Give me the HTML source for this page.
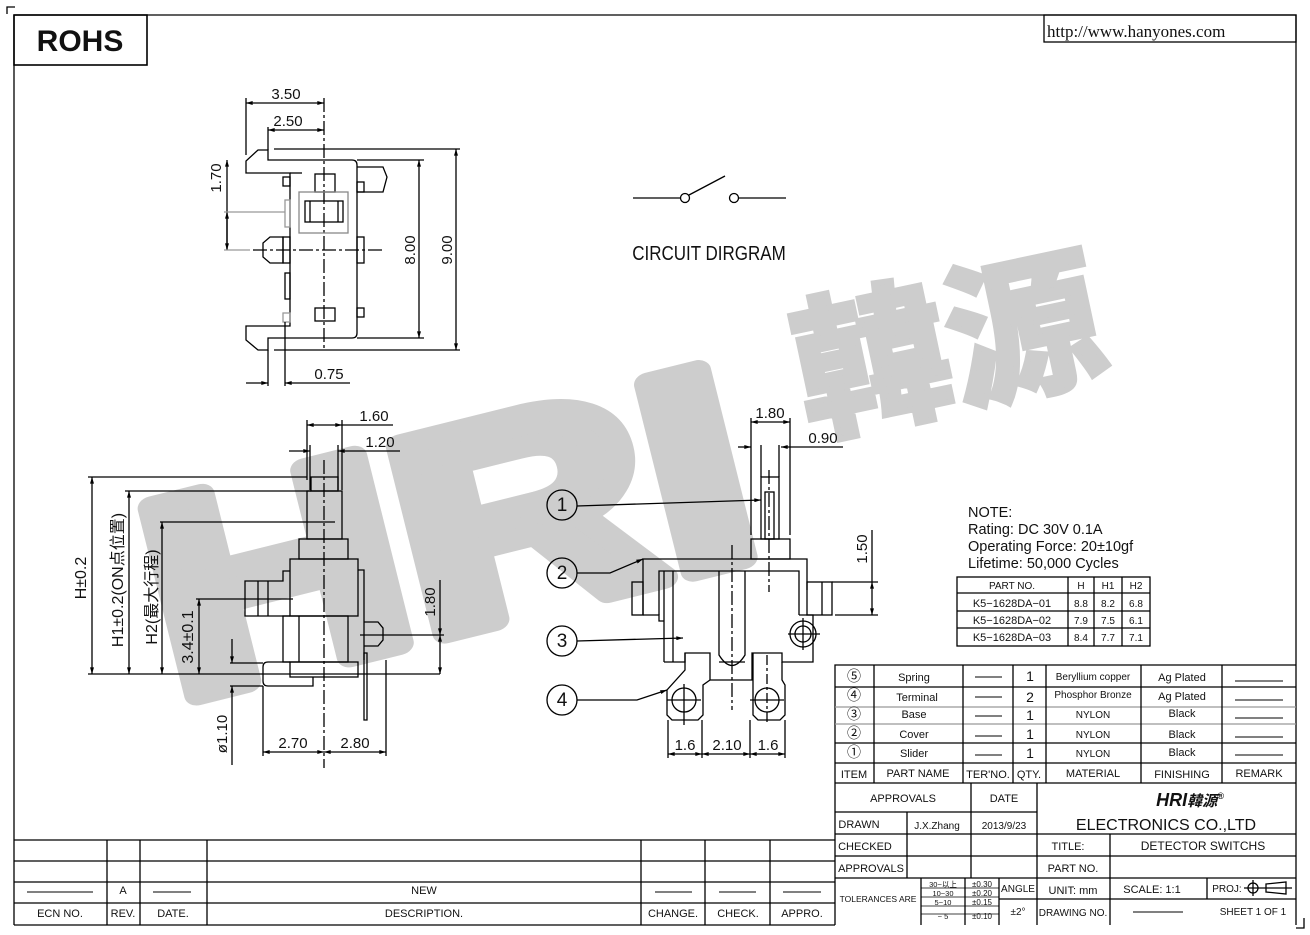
<!DOCTYPE html>
<html><head><meta charset="utf-8"><style>
html,body{margin:0;padding:0;background:#fff;}
svg{display:block;}
text{font-family:"Liberation Sans","Noto Sans CJK SC",sans-serif;fill:#111;}
</style></head><body>
<svg width="1310" height="935" viewBox="0 0 1310 935" xmlns="http://www.w3.org/2000/svg">
<defs>
<marker id="a" viewBox="0 0 10 6" refX="10" refY="3" markerWidth="8" markerHeight="4" orient="auto-start-reverse" markerUnits="userSpaceOnUse"><path d="M0,0 L10,3 L0,6 z" fill="#000"/></marker>
</defs>

<!-- watermark -->
<text x="175" y="700" transform="rotate(-14 175 700)" font-size="280" font-weight="bold" style="fill:#cdcdcd;stroke:#cdcdcd;stroke-width:22;stroke-linejoin:round" textLength="610" lengthAdjust="spacingAndGlyphs">HRI</text>
<text x="808" y="432" transform="rotate(-12 808 432)" font-size="155" font-weight="bold" style="fill:#cdcdcd;stroke:#cdcdcd;stroke-width:6;font-family:'Noto Sans CJK SC',sans-serif">韓源</text>

<g stroke="#000" stroke-width="1.3" fill="none">
<path d="M7,14 V7 H15"/>
<path d="M14,15 H1296 V925"/>
<path d="M14,15 V925"/>
<path d="M1296,928 H1304 V918"/>
<rect x="14" y="15" width="133" height="50" stroke-width="1.6"/>
<rect x="1044" y="15" width="252" height="27"/>

<line x1="633" y1="198" x2="680" y2="198"/>
<circle cx="685" cy="198" r="4.5"/>
<line x1="689" y1="195" x2="725" y2="176"/>
<circle cx="734" cy="198" r="4.5"/>
<line x1="739" y1="198" x2="786" y2="198"/>

<line x1="246" y1="103" x2="324" y2="103" marker-start="url(#a)" marker-end="url(#a)"/>
<line x1="268" y1="130" x2="324" y2="130" marker-start="url(#a)" marker-end="url(#a)"/>
<line x1="246" y1="98" x2="246" y2="155"/>
<line x1="268" y1="127" x2="268" y2="150"/>
<line x1="324" y1="98" x2="324" y2="350" stroke-dasharray="14,3,3,3"/>
<path d="M246,173 V161 L258,150 H268 V160 H352 Q357,160 357,165 V333 Q357,338 352,338 H268 V350 H258 L246,340 V326 H290 V173 Z"/>
<line x1="290" y1="173" x2="302" y2="173"/>
<line x1="274" y1="149" x2="460" y2="149"/>
<line x1="274" y1="350" x2="460" y2="350"/>
<line x1="357" y1="160" x2="424" y2="160"/>
<line x1="357" y1="338" x2="424" y2="338"/>
<line x1="419" y1="160" x2="419" y2="338" marker-start="url(#a)" marker-end="url(#a)"/>
<line x1="456" y1="149" x2="456" y2="350" marker-start="url(#a)" marker-end="url(#a)"/>
<path d="M357,167 H383 L387,177 L383,192 H357"/>
<rect x="357" y="182" width="7" height="10"/>
<rect x="315" y="174" width="20" height="18"/>
<rect x="299" y="192" width="49" height="41" stroke="#888"/>
<rect x="305" y="201" width="38" height="21"/>
<line x1="310" y1="201" x2="310" y2="222"/><line x1="338" y1="201" x2="338" y2="222"/>
<path d="M283,237 H270 L263,243 V257 L270,263 H283 Z"/>
<rect x="283" y="237" width="7" height="26"/>
<rect x="357" y="237" width="7" height="26"/>
<line x1="253" y1="250" x2="382" y2="250" stroke-dasharray="14,3,3,3"/>
<rect x="283" y="177" width="7" height="9"/>
<rect x="285" y="200" width="5" height="27" stroke="#999"/>
<rect x="285" y="273" width="5" height="26"/>
<rect x="283" y="313" width="7" height="9" stroke="#999"/>
<rect x="315" y="308" width="20" height="13"/>
<rect x="357" y="308" width="7" height="9"/>
<line x1="227" y1="160" x2="227" y2="250" marker-start="url(#a)"/>
<line x1="227" y1="212" x2="227" y2="250" marker-start="url(#a)" marker-end="url(#a)"/>
<line x1="224" y1="212" x2="285" y2="212" stroke="#999"/>
<line x1="224" y1="250" x2="250" y2="250" stroke="#999"/>
<line x1="268" y1="350" x2="268" y2="386"/>
<line x1="285" y1="322" x2="285" y2="386"/>
<line x1="246" y1="383" x2="268" y2="383" marker-end="url(#a)"/>
<line x1="350" y1="383" x2="285" y2="383" marker-end="url(#a)"/>

<line x1="307" y1="425" x2="342" y2="425" marker-start="url(#a)" marker-end="url(#a)"/>
<line x1="342" y1="425" x2="393" y2="425"/>
<line x1="289" y1="451" x2="310" y2="451" marker-end="url(#a)"/>
<line x1="400" y1="451" x2="338" y2="451" marker-end="url(#a)"/>
<line x1="307" y1="420" x2="307" y2="480"/>
<line x1="342" y1="420" x2="342" y2="490"/>
<line x1="310" y1="445" x2="310" y2="490"/>
<line x1="338" y1="445" x2="338" y2="490"/>
<line x1="324" y1="460" x2="324" y2="768" stroke-dasharray="14,3,3,3"/>
<rect x="311" y="477" width="27" height="14"/>
<rect x="307" y="491" width="35" height="48"/>
<rect x="299" y="539" width="49" height="20"/>
<rect x="290" y="559" width="68" height="57"/>
<path d="M290,571 H283 V581 H245 V616 H290"/>
<line x1="258" y1="581" x2="258" y2="616"/><line x1="268" y1="581" x2="268" y2="616"/>
<path d="M358,570 H364 V660"/>
<rect x="283" y="616" width="65" height="46"/>
<line x1="299" y1="616" x2="299" y2="662"/>
<rect x="290" y="662" width="68" height="15"/>
<path d="M290,662 H268 Q263,662 263,667 V681 Q263,686 268,686 H313 V677"/>
<path d="M364,622 H378 L383,628 V640 L378,646 H364"/>
<path d="M364,653 H367 V720 H364 Z"/>
<line x1="88" y1="477" x2="307" y2="477"/>
<line x1="125" y1="491" x2="311" y2="491"/>
<line x1="160" y1="522" x2="335" y2="522"/>
<line x1="196" y1="599" x2="293" y2="599"/>
<line x1="88" y1="674" x2="440" y2="674"/>
<line x1="360" y1="635" x2="444" y2="635"/>
<line x1="92" y1="477" x2="92" y2="674" marker-start="url(#a)" marker-end="url(#a)"/>
<line x1="129" y1="491" x2="129" y2="674" marker-start="url(#a)" marker-end="url(#a)"/>
<line x1="162" y1="522" x2="162" y2="674" marker-start="url(#a)" marker-end="url(#a)"/>
<line x1="199" y1="599" x2="199" y2="674" marker-start="url(#a)" marker-end="url(#a)"/>
<line x1="440" y1="580" x2="440" y2="635" marker-end="url(#a)"/>
<line x1="440" y1="635" x2="440" y2="674" marker-start="url(#a)" marker-end="url(#a)"/>
<line x1="232" y1="639" x2="232" y2="663" marker-end="url(#a)"/>
<line x1="232" y1="765" x2="232" y2="686" marker-end="url(#a)"/>
<line x1="230" y1="663" x2="263" y2="663"/>
<line x1="230" y1="686" x2="263" y2="686"/>
<line x1="263" y1="686" x2="263" y2="756"/>
<line x1="386" y1="660" x2="386" y2="756"/>
<line x1="263" y1="752" x2="324" y2="752" marker-start="url(#a)" marker-end="url(#a)"/>
<line x1="324" y1="752" x2="386" y2="752" marker-start="url(#a)" marker-end="url(#a)"/>

<line x1="751" y1="422" x2="790" y2="422" marker-start="url(#a)" marker-end="url(#a)"/>
<line x1="738" y1="447" x2="751" y2="447" marker-end="url(#a)"/>
<line x1="843" y1="447" x2="781" y2="447" marker-end="url(#a)"/>
<line x1="751" y1="418" x2="751" y2="535"/>
<line x1="790" y1="418" x2="790" y2="535"/>
<line x1="761" y1="445" x2="761" y2="477"/>
<line x1="779" y1="445" x2="779" y2="477"/>
<rect x="761" y="477" width="18" height="62"/>
<rect x="765" y="492" width="9" height="47"/>
<line x1="769" y1="470" x2="769" y2="592" stroke-dasharray="14,3,3,3"/>
<rect x="751" y="539" width="39" height="20"/>
<path d="M643,615 V559 H807 V590"/>
<path d="M659,615 V571 H799 V615"/>
<line x1="664" y1="571" x2="664" y2="662"/>
<line x1="673" y1="571" x2="673" y2="662"/>
<path d="M643,615 H659 V621 H664"/>
<rect x="632" y="582" width="11" height="33"/>
<rect x="807" y="582" width="25" height="33"/>
<line x1="822" y1="582" x2="822" y2="615"/>
<path d="M664,662 H685 V653 H710 V680 H752 V653 H782 V662 H813 V615 H799"/>
<path d="M685,653 V670 L667,690 V715 L672,720 H698 L703,715 V685 L710,680"/>
<path d="M753,653 V715 L758,720 H780 L785,715 V685 L782,680 V662"/>
<circle cx="684" cy="700" r="12"/><circle cx="767" cy="700" r="12"/>
<line x1="684" y1="684" x2="684" y2="725"/><line x1="667" y1="700" x2="701" y2="700"/>
<line x1="767" y1="655" x2="767" y2="725" stroke-dasharray="10,3,3,3"/><line x1="750" y1="700" x2="784" y2="700"/>
<path d="M719,571 V655 Q732,676 745,655 V571"/>
<line x1="719" y1="662" x2="745" y2="662"/>
<line x1="732" y1="545" x2="732" y2="710" stroke-dasharray="14,3,3,3"/>
<circle cx="803" cy="634" r="8"/><circle cx="803" cy="634" r="13"/>
<line x1="788" y1="634" x2="820" y2="634"/><line x1="803" y1="618" x2="803" y2="650"/>
<line x1="832" y1="582" x2="878" y2="582"/>
<line x1="835" y1="615" x2="878" y2="615"/>
<line x1="872" y1="530" x2="872" y2="582"/>
<line x1="872" y1="582" x2="872" y2="615" marker-start="url(#a)" marker-end="url(#a)"/>
<line x1="668" y1="720" x2="668" y2="758"/>
<line x1="702" y1="720" x2="702" y2="758"/>
<line x1="750" y1="720" x2="750" y2="758"/>
<line x1="785" y1="720" x2="785" y2="758"/>
<line x1="668" y1="754" x2="702" y2="754" marker-start="url(#a)" marker-end="url(#a)"/>
<line x1="702" y1="754" x2="750" y2="754" marker-start="url(#a)" marker-end="url(#a)"/>
<line x1="750" y1="754" x2="785" y2="754" marker-start="url(#a)" marker-end="url(#a)"/>
<circle cx="562" cy="505" r="15"/><circle cx="562" cy="573" r="15"/>
<circle cx="562" cy="641" r="15"/><circle cx="562" cy="700" r="15"/>
<line x1="577" y1="506" x2="761" y2="500" marker-end="url(#a)"/>
<path d="M577,573 H610 L643,559" marker-end="url(#a)"/>
<line x1="577" y1="641" x2="683" y2="638" marker-end="url(#a)"/>
<path d="M577,700 H637 L667,690" marker-end="url(#a)"/>

<rect x="957" y="577" width="193" height="69"/>
<line x1="957" y1="593" x2="1150" y2="593"/>
<line x1="957" y1="611" x2="1150" y2="611"/>
<line x1="957" y1="628" x2="1150" y2="628"/>
<line x1="1068" y1="577" x2="1068" y2="646"/>
<line x1="1094" y1="577" x2="1094" y2="646"/>
<line x1="1122" y1="577" x2="1122" y2="646"/>

<path d="M835,925 V665 H1296"/>
<line x1="835" y1="687" x2="1296" y2="687"/>
<line x1="835" y1="707" x2="1296" y2="707" stroke="#999"/>
<line x1="835" y1="724" x2="1296" y2="724" stroke="#999"/>
<line x1="835" y1="743" x2="1296" y2="743"/>
<line x1="835" y1="763" x2="1296" y2="763"/>
<line x1="835" y1="783" x2="1296" y2="783"/>
<line x1="874" y1="665" x2="874" y2="783"/>
<line x1="963" y1="665" x2="963" y2="783"/>
<line x1="1013" y1="665" x2="1013" y2="783"/>
<line x1="1046" y1="665" x2="1046" y2="783"/>
<line x1="1141" y1="665" x2="1141" y2="783"/>
<line x1="1222" y1="665" x2="1222" y2="783"/>
<line x1="835" y1="812" x2="1037" y2="812"/>
<line x1="835" y1="834" x2="1296" y2="834"/>
<line x1="835" y1="856" x2="1296" y2="856"/>
<line x1="835" y1="878" x2="1296" y2="878"/>
<line x1="999" y1="899" x2="1296" y2="899"/>
<line x1="971" y1="783" x2="971" y2="878"/>
<line x1="907" y1="812" x2="907" y2="878"/>
<line x1="1037" y1="783" x2="1037" y2="925"/>
<line x1="1110" y1="834" x2="1110" y2="925"/>
<line x1="1207" y1="878" x2="1207" y2="899"/>
<line x1="921" y1="878" x2="921" y2="925"/>
<line x1="965" y1="878" x2="965" y2="925"/>
<line x1="999" y1="878" x2="999" y2="925"/>
<line x1="921" y1="888" x2="999" y2="888" stroke-width="0.8"/>
<line x1="921" y1="897" x2="999" y2="897" stroke-width="0.8"/>
<line x1="921" y1="906" x2="999" y2="906" stroke-width="0.8"/>
<line x1="921" y1="914" x2="999" y2="914" stroke-width="0.8"/>
<g stroke-width="1">
<line x1="975" y1="677" x2="1002" y2="677"/><line x1="975" y1="697" x2="1002" y2="697"/>
<line x1="975" y1="716" x2="1002" y2="716"/><line x1="975" y1="736" x2="1002" y2="736"/>
<line x1="975" y1="755" x2="1002" y2="755"/>
<line x1="1235" y1="681" x2="1283" y2="681"/><line x1="1235" y1="700" x2="1283" y2="700"/>
<line x1="1235" y1="718" x2="1283" y2="718"/><line x1="1235" y1="737" x2="1283" y2="737"/>
<line x1="1235" y1="755" x2="1283" y2="755"/>
<line x1="1133" y1="912" x2="1183" y2="912"/>
</g>
<circle cx="1253" cy="888" r="5"/><line x1="1244" y1="888" x2="1262" y2="888"/><line x1="1253" y1="880" x2="1253" y2="896"/>
<path d="M1266,884 L1286,882 V894 L1266,892 Z"/><line x1="1262" y1="888" x2="1292" y2="888"/>

<line x1="14" y1="840" x2="835" y2="840"/>
<line x1="14" y1="861" x2="835" y2="861"/>
<line x1="14" y1="882" x2="835" y2="882"/>
<line x1="14" y1="903" x2="835" y2="903"/>
<line x1="14" y1="925" x2="835" y2="925"/>
<line x1="107" y1="840" x2="107" y2="925"/>
<line x1="140" y1="840" x2="140" y2="925"/>
<line x1="207" y1="840" x2="207" y2="925"/>
<line x1="641" y1="840" x2="641" y2="925"/>
<line x1="705" y1="840" x2="705" y2="925"/>
<line x1="770" y1="840" x2="770" y2="925"/>
<g stroke-width="1">
<line x1="27" y1="892" x2="93" y2="892"/><line x1="153" y1="892" x2="191" y2="892"/>
<line x1="655" y1="892" x2="692" y2="892"/><line x1="719" y1="892" x2="756" y2="892"/><line x1="783" y1="892" x2="821" y2="892"/>
</g>
</g>

<text x="80" y="51" font-size="30" font-weight="bold" text-anchor="middle">ROHS</text>
<text x="1047" y="37" font-size="17" style="font-family:'Liberation Serif',serif">http://www.hanyones.com</text>
<text x="709" y="260" font-size="20" text-anchor="middle" transform="translate(709 0) scale(0.85 1) translate(-709 0)">CIRCUIT  DIRGRAM</text>

<g font-size="15">
<text x="286" y="99" text-anchor="middle">3.50</text>
<text x="288" y="126" text-anchor="middle">2.50</text>
<text x="221" y="178" text-anchor="middle" transform="rotate(-90 221 178)">1.70</text>
<text x="415" y="250" text-anchor="middle" transform="rotate(-90 415 250)">8.00</text>
<text x="452" y="250" text-anchor="middle" transform="rotate(-90 452 250)">9.00</text>
<text x="329" y="379" text-anchor="middle">0.75</text>
<text x="374" y="421" text-anchor="middle">1.60</text>
<text x="380" y="447" text-anchor="middle">1.20</text>
<text x="86" y="578" text-anchor="middle" transform="rotate(-90 86 578)" font-size="16">H±0.2</text>
<text x="123" y="580" text-anchor="middle" transform="rotate(-90 123 580)" font-size="16">H1±0.2(ON点位置)</text>
<text x="157" y="597" text-anchor="middle" transform="rotate(-90 157 597)" font-size="16">H2(最大行程)</text>
<text x="193" y="637" text-anchor="middle" transform="rotate(-90 193 637)" font-size="16">3.4±0.1</text>
<text x="435" y="602" text-anchor="middle" transform="rotate(-90 435 602)">1.80</text>
<text x="227" y="734" text-anchor="middle" transform="rotate(-90 227 734)">ø1.10</text>
<text x="293" y="748" text-anchor="middle">2.70</text>
<text x="355" y="748" text-anchor="middle">2.80</text>
<text x="770" y="418" text-anchor="middle">1.80</text>
<text x="823" y="443" text-anchor="middle">0.90</text>
<text x="867" y="549" text-anchor="middle" transform="rotate(-90 867 549)">1.50</text>
<text x="685" y="750" text-anchor="middle">1.6</text>
<text x="727" y="750" text-anchor="middle">2.10</text>
<text x="768" y="750" text-anchor="middle">1.6</text>
<text x="562" y="511" text-anchor="middle" font-size="19">1</text>
<text x="562" y="579" text-anchor="middle" font-size="19">2</text>
<text x="562" y="647" text-anchor="middle" font-size="19">3</text>
<text x="562" y="706" text-anchor="middle" font-size="19">4</text>
</g>

<g font-size="14.5">
<text x="968" y="517">NOTE:</text>
<text x="968" y="534">Rating:  DC  30V  0.1A</text>
<text x="968" y="551">Operating  Force:  20±10gf</text>
<text x="968" y="568">Lifetime:   50,000  Cycles</text>
</g>
<g font-size="10" text-anchor="middle">
<text x="1012" y="589">PART  NO.</text><text x="1081" y="589">H</text><text x="1108" y="589">H1</text><text x="1136" y="589">H2</text>
<text x="1012" y="607" font-size="11">K5−1628DA−01</text><text x="1081" y="607">8.8</text><text x="1108" y="607">8.2</text><text x="1136" y="607">6.8</text>
<text x="1012" y="624" font-size="11">K5−1628DA−02</text><text x="1081" y="624">7.9</text><text x="1108" y="624">7.5</text><text x="1136" y="624">6.1</text>
<text x="1012" y="641" font-size="11">K5−1628DA−03</text><text x="1081" y="641">8.4</text><text x="1108" y="641">7.7</text><text x="1136" y="641">7.1</text>
</g>

<g font-size="11" text-anchor="middle">
<text x="854" y="681" font-size="14">⑤</text><text x="854" y="700" font-size="14">④</text><text x="854" y="719" font-size="14">③</text><text x="854" y="738" font-size="14">②</text><text x="854" y="757" font-size="14">①</text>
<text x="914" y="681">Spring</text><text x="917" y="701">Terminal</text><text x="914" y="718">Base</text><text x="914" y="738">Cover</text><text x="914" y="757">Slider</text>
<text x="1030" y="681" font-size="14">1</text><text x="1030" y="702" font-size="14">2</text><text x="1030" y="720" font-size="14">1</text><text x="1030" y="739" font-size="14">1</text><text x="1030" y="758" font-size="14">1</text>
<text x="1093" y="680" font-size="10">Beryllium  copper</text><text x="1093" y="698" font-size="10">Phosphor  Bronze</text>
<text x="1093" y="718" font-size="10">NYLON</text><text x="1093" y="738" font-size="10">NYLON</text><text x="1093" y="757" font-size="10">NYLON</text>
<text x="1182" y="681">Ag  Plated</text><text x="1182" y="700">Ag  Plated</text><text x="1182" y="717">Black</text><text x="1182" y="738">Black</text><text x="1182" y="756">Black</text>
<text x="854" y="778">ITEM</text><text x="918" y="777">PART  NAME</text><text x="988" y="778">TER'NO.</text><text x="1029" y="778">QTY.</text>
<text x="1093" y="777">MATERIAL</text><text x="1182" y="778">FINISHING</text><text x="1259" y="777">REMARK</text>
<text x="903" y="802">APPROVALS</text><text x="1004" y="802">DATE</text>
<text x="859" y="828" font-size="11">DRAWN</text><text x="937" y="829" font-size="10">J.X.Zhang</text><text x="1004" y="829" font-size="10">2013/9/23</text>
<text x="865" y="850" font-size="11">CHECKED</text><text x="871" y="872" font-size="11">APPROVALS</text>
<text x="1068" y="850">TITLE:</text><text x="1203" y="850" font-size="12">DETECTOR  SWITCHS</text>
<text x="1073" y="872">PART  NO.</text>
<text x="878" y="902" font-size="8.5">TOLERANCES  ARE</text>
<text x="943" y="887" font-size="7.5">30~以上</text><text x="943" y="896" font-size="7.5">10~30</text><text x="943" y="905" font-size="7.5">5~10</text><text x="943" y="919" font-size="7.5">~ 5</text>
<text x="982" y="887" font-size="8">±0.30</text><text x="982" y="896" font-size="8">±0.20</text><text x="982" y="905" font-size="8">±0.15</text><text x="982" y="919" font-size="8">±0.10</text>
<text x="1018" y="892" font-size="10">ANGLE</text><text x="1018" y="915" font-size="10">±2°</text>
<text x="1073" y="894">UNIT:  mm</text><text x="1152" y="893">SCALE:    1:1</text>
<text x="1227" y="892" font-size="10">PROJ:</text>
<text x="1073" y="916" font-size="10">DRAWING  NO.</text>
<text x="1253" y="915" font-size="10">SHEET    1  OF  1</text>
<text x="1166" y="830" font-size="16">ELECTRONICS  CO.,LTD</text>
<text x="1190" y="806" font-size="18" font-weight="bold" font-style="italic" fill="#444">HRI<tspan style="font-family:'Noto Sans CJK SC',sans-serif" font-size="15">韓源</tspan><tspan font-size="9" dy="-7">®</tspan></text>
</g>

<g font-size="11" text-anchor="middle">
<text x="123" y="894">A</text>
<text x="424" y="894">NEW</text>
<text x="60" y="917">ECN  NO.</text><text x="123" y="917">REV.</text><text x="173" y="917">DATE.</text>
<text x="424" y="917">DESCRIPTION.</text><text x="673" y="917">CHANGE.</text><text x="738" y="917">CHECK.</text><text x="802" y="917">APPRO.</text>
</g>
</svg>
</body></html>
